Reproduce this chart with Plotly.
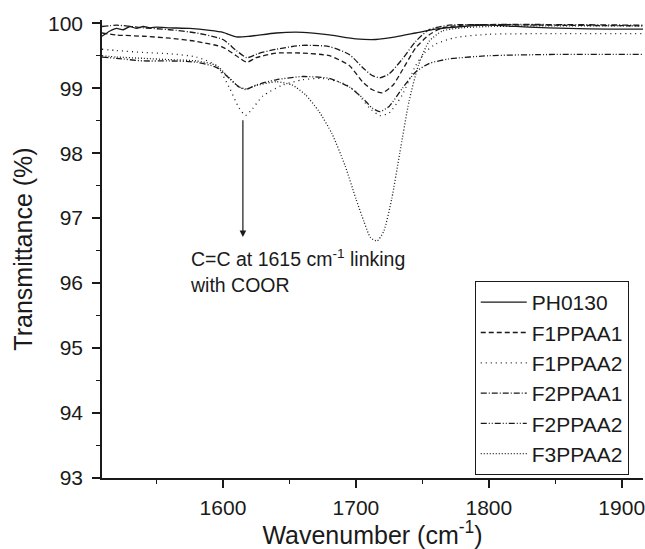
import plotly.graph_objects as go

names = ["PH0130", "F1PPAA1", "F1PPAA2", "F2PPAA1", "F2PPAA2", "F3PPAA2"]

ph0130_x = [1509,1515,1520,1525,1530,1535,1540,1545,1550,1560,1575,1590,1600,1610,1620,1640,1660,1680,1700,1715,1730,1745,1760,1780,1800,1830,1860,1890,1916]
ph0130_y = [99.80,99.88,99.92,99.90,99.95,99.92,99.95,99.93,99.94,99.93,99.92,99.89,99.86,99.79,99.80,99.85,99.86,99.82,99.76,99.75,99.79,99.85,99.91,99.95,99.97,99.94,99.92,99.91,99.91]

f1ppaa1_x = [1509,1520,1540,1560,1580,1600,1610,1618,1625,1640,1660,1680,1695,1705,1712,1720,1728,1735,1745,1755,1765,1780,1800,1850,1916]
f1ppaa1_y = [99.85,99.82,99.80,99.77,99.72,99.63,99.50,99.40,99.47,99.54,99.54,99.50,99.35,99.10,98.98,98.93,99.05,99.28,99.62,99.82,99.93,99.97,99.98,99.97,99.96]

f1ppaa2_x = [1509,1520,1540,1560,1580,1595,1605,1612,1617,1622,1630,1645,1660,1675,1690,1700,1710,1718,1725,1735,1745,1752,1760,1775,1800,1850,1916]
f1ppaa2_y = [99.60,99.58,99.55,99.53,99.48,99.35,99.00,98.70,98.58,98.68,98.88,99.05,99.13,99.15,99.08,98.95,98.70,98.58,98.62,98.90,99.35,99.55,99.68,99.78,99.83,99.84,99.84]

f2ppaa1_x = [1509,1520,1540,1560,1580,1600,1610,1618,1626,1640,1660,1680,1695,1705,1712,1718,1725,1735,1745,1755,1770,1800,1850,1916]
f2ppaa1_y = [99.95,99.97,99.93,99.90,99.85,99.75,99.58,99.47,99.53,99.60,99.66,99.64,99.52,99.32,99.20,99.16,99.22,99.45,99.72,99.90,99.97,99.98,99.98,99.97]

f2ppaa2_x = [1509,1520,1540,1560,1580,1595,1605,1612,1617,1625,1640,1660,1680,1695,1705,1712,1718,1725,1735,1745,1755,1770,1800,1850,1916]
f2ppaa2_y = [99.48,99.46,99.42,99.42,99.40,99.32,99.15,99.02,98.98,99.05,99.13,99.18,99.15,99.02,98.85,98.70,98.64,98.72,99.00,99.25,99.38,99.45,99.50,99.52,99.52]

f3ppaa2_x = [1509,1520,1540,1560,1580,1595,1605,1612,1618,1625,1640,1652,1662,1672,1682,1692,1700,1706,1711,1716,1721,1727,1733,1740,1747,1755,1765,1780,1800,1850,1916]
f3ppaa2_y = [99.50,99.48,99.46,99.44,99.42,99.35,99.15,99.02,98.99,99.04,99.10,99.05,98.90,98.65,98.30,97.80,97.30,96.95,96.70,96.65,96.80,97.30,98.00,98.80,99.35,99.72,99.88,99.93,99.95,99.96,99.96]

xs = [ph0130_x, f1ppaa1_x, f1ppaa2_x, f2ppaa1_x, f2ppaa2_x, f3ppaa2_x]
ys = [ph0130_y, f1ppaa1_y, f1ppaa2_y, f2ppaa1_y, f2ppaa2_y, f3ppaa2_y]
dashes = ["solid", "5px,3px", "1px,4px", "6px,2px,1px,2px", "6px,2px,1px,2px,1px,2px", "1px,2px"]

x_ticks = [1600, 1700, 1800, 1900]
y_ticks = [93, 94, 95, 96, 97, 98, 99, 100]

FONT = "Liberation Sans, Arial, sans-serif"
INK = "#1a1a1a"

fig = go.Figure()
for n, x, y, d in zip(names, xs, ys, dashes):
    fig.add_trace(go.Scatter(x=x, y=y, name=n, mode="lines",
                             line=dict(color=INK, width=1.3, dash=d, shape="spline", smoothing=0.6)))

fig.add_annotation(x=1615, y=96.71, ax=1615, ay=98.53, axref="x", ayref="y", xref="x", yref="y",
                   text="", showarrow=True, arrowhead=2, arrowsize=1.1, arrowwidth=1.2, arrowcolor=INK)
fig.add_annotation(x=1573.5, y=96.6, xref="x", yref="y", xanchor="left", yanchor="top",
                   text="C=C at 1615 cm<sup>-1</sup> linking<br>with COOR", showarrow=False, align="left",
                   font=dict(family=FONT, size=19.5, color=INK))

fig.update_layout(
    width=645, height=549,
    margin=dict(l=102, r=0, t=20, b=71),
    paper_bgcolor="white", plot_bgcolor="white",
    font=dict(family=FONT, size=21, color=INK),
    showlegend=True,
    legend=dict(x=0.689, y=0.43, xanchor="left", yanchor="top",
                bordercolor=INK, borderwidth=1, bgcolor="white", itemwidth=46,
                font=dict(family=FONT, size=21, color=INK), tracegroupgap=0),
    xaxis=dict(range=[1509, 1916], tickvals=x_ticks, showgrid=False, zeroline=False,
               showline=True, linecolor=INK, linewidth=1.5, ticks="outside", ticklen=8,
               tickwidth=1.5, tickcolor=INK, ticklabelstandoff=2, ticklabeloverflow="allow",
               tickfont=dict(family=FONT, size=21, color=INK),
               minor=dict(dtick=50, tick0=1550, ticks="outside", ticklen=4, tickwidth=1.2, tickcolor=INK),
               title=dict(text="Wavenumber (cm<sup>-1</sup>)", font=dict(family=FONT, size=25, color=INK), standoff=6)),
    yaxis=dict(range=[93, 100.05], tickvals=y_ticks, showgrid=False, zeroline=False,
               showline=True, linecolor=INK, linewidth=1.5, ticks="outside", ticklen=8,
               tickwidth=1.5, tickcolor=INK, ticklabelstandoff=5,
               tickfont=dict(family=FONT, size=21, color=INK),
               minor=dict(dtick=0.5, tick0=93, ticks="outside", ticklen=4, tickwidth=1.2, tickcolor=INK),
               title=dict(text="Transmittance (%)", font=dict(family=FONT, size=25, color=INK), standoff=8)),
)

fig.write_html("out.html")
